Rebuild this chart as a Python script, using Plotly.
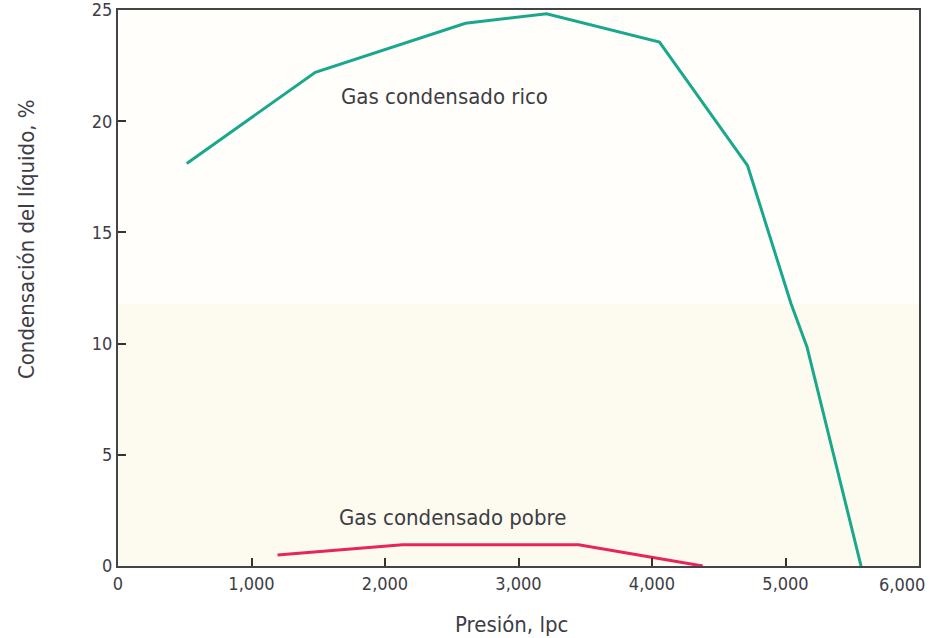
import plotly.graph_objects as go

# Gas condensado rico
rico_presion = [515, 1478, 2603, 3210, 4056, 4716, 5041, 5161, 5566]
rico_liquido = [18.1, 22.2, 24.4, 24.83, 23.56, 18.0, 11.8, 9.85, 0.0]

# Gas condensado pobre
pobre_presion = [1195, 2130, 3450, 4380]
pobre_liquido = [0.5, 0.95, 0.95, 0.0]

x_ticks = [0, 1000, 2000, 3000, 4000, 5000, 6000]
x_labels = ["0", "1,000", "2,000", "3,000", "4,000", "5,000", "6,000"]
y_ticks = [0, 5, 10, 15, 20, 25]

FONT = "DejaVu Sans Condensed, Liberation Sans Narrow, Roboto, sans-serif"
TXT = "#3d3d44"

fig = go.Figure()
fig.add_trace(go.Scatter(x=rico_presion, y=rico_liquido, mode="lines",
                         line=dict(color="#1aa88c", width=3), showlegend=False))
fig.add_trace(go.Scatter(x=pobre_presion, y=pobre_liquido, mode="lines",
                         line=dict(color="#e8245c", width=3), showlegend=False))

fig.add_annotation(x=2445, y=21.1, text="Gas condensado rico", showarrow=False,
                   font=dict(family=FONT, size=22, color=TXT))
fig.add_annotation(x=2505, y=2.16, text="Gas condensado pobre", showarrow=False,
                   font=dict(family=FONT, size=22, color=TXT))
# axis titles
fig.add_annotation(xref="paper", x=0, xanchor="center", xshift=-92, y=14.7,
                   text="Condensación del líquido, %", textangle=-90, showarrow=False,
                   font=dict(family=FONT, size=22, color=TXT))
fig.add_annotation(x=2951, yref="paper", y=0, yanchor="middle", yshift=-58,
                   text="Presión, lpc", showarrow=False,
                   font=dict(family=FONT, size=22, color=TXT))
# last x tick label sits pulled in from the right edge
fig.add_annotation(x=x_ticks[-1], xanchor="right", xshift=8, yref="paper", y=0,
                   yanchor="middle", yshift=-18, text=x_labels[-1], showarrow=False,
                   font=dict(family=FONT, size=18, color=TXT))

# top part of the panel is a touch lighter than the bottom
fig.add_shape(type="rect", xref="x", yref="y", x0=0, x1=6000, y0=11.8, y1=25,
              fillcolor="#fffefa", line=dict(width=0), layer="below")

fig.update_layout(
    width=930, height=638,
    margin=dict(l=118, r=11, t=10, b=72),
    paper_bgcolor="white",
    plot_bgcolor="#fdfbf0",
    font=dict(family=FONT, size=18, color=TXT),
)
fig.update_xaxes(
    range=[0, 6000], tickvals=x_ticks, ticktext=x_labels[:-1] + [""], automargin=False,
    ticklabeloverflow="allow",
    ticks="inside", ticklen=8, tickwidth=2, tickcolor="#333",
    showline=True, linecolor="#444", linewidth=2, mirror=True,
    showgrid=False, zeroline=False,
)
fig.update_yaxes(
    range=[0, 25], tickvals=y_ticks, automargin=False,
    ticklabeloverflow="allow",
    ticks="inside", ticklen=8, tickwidth=2, tickcolor="#333",
    showline=True, linecolor="#444", linewidth=2, mirror=True,
    showgrid=False, zeroline=False,
)

fig.write_html("out.html", config={"displayModeBar": False},
               post_script="document.body.style.margin='0';document.body.style.overflow='hidden';")
